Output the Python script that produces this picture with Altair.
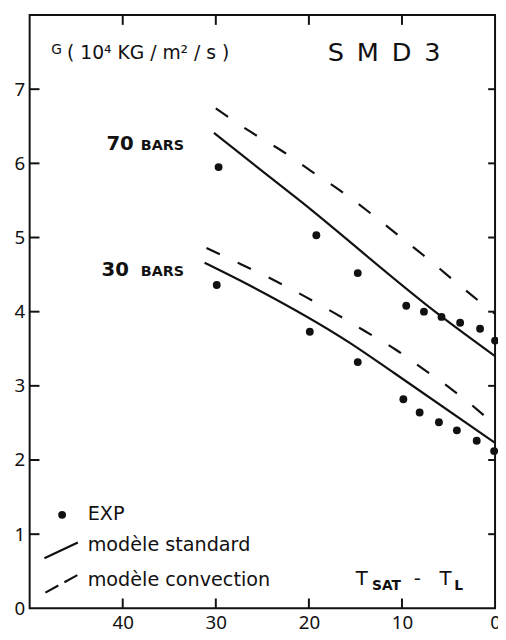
import altair as alt
import pandas as pd

# ---- data ----
exp70_x = [29.7, 19.2, 14.75, 9.54, 7.64, 5.75, 3.75, 1.61, 0.0]
exp70_y = [5.95, 5.03, 4.52, 4.08, 4.00, 3.93, 3.85, 3.77, 3.61]
exp30_x = [29.9, 19.9, 14.75, 9.85, 8.1, 6.03, 4.1, 1.97, 0.1]
exp30_y = [4.36, 3.73, 3.32, 2.82, 2.64, 2.51, 2.40, 2.26, 2.12]

std70_x = [30.2, 20.8, 5.92, 0.0]
std70_y = [6.41, 5.48, 3.95, 3.40]
std30_x = [31.2, 26.6, 15.6, 10.8, 0.0]
std30_y = [4.66, 4.37, 3.58, 3.17, 2.23]

conv70_x = [30.0, 26.2, 22.8, 19.8, 16.6, 13.2, 10.2, 7.29, 4.91, 2.49, 0.0]
conv70_y = [6.74, 6.42, 6.16, 5.90, 5.63, 5.31, 5.01, 4.72, 4.47, 4.22, 3.97]
conv30_x = [31.0, 27.3, 24.0, 20.5, 17.1, 14.0, 10.7, 7.85, 4.73, 1.92, 0.0]
conv30_y = [4.86, 4.64, 4.44, 4.21, 3.97, 3.74, 3.49, 3.24, 2.96, 2.68, 2.47]

x_ticks = [40, 30, 20, 10, 0]
y_ticks = [0, 1, 2, 3, 4, 5, 6, 7]
inner_x_ticks = [40, 30, 20, 10]
inner_y_ticks = [1, 2, 3, 4, 5, 6, 7]

W, H = 473, 603
AXFONT = "Noto Sans"
FONT = "DejaVu Sans"
INK = "#111111"


def series(xs, ys, name):
    return pd.DataFrame({"x": xs, "y": ys, "s": name, "o": list(range(len(xs)))})


exp_df = pd.concat([series(exp70_x, exp70_y, "70"), series(exp30_x, exp30_y, "30")])
std_df = pd.concat([series(std70_x, std70_y, "70"), series(std30_x, std30_y, "30")])
conv_df = pd.concat([series(conv70_x, conv70_y, "70"), series(conv30_x, conv30_y, "30")])

X = alt.X("x:Q", scale=alt.Scale(domain=[0, 50], reverse=True),
          axis=alt.Axis(values=x_ticks, title=None, labelFlush=False, labelOverlap=False))
Y = alt.Y("y:Q", scale=alt.Scale(domain=[0, 8]),
          axis=alt.Axis(values=y_ticks, title=None, labelFlush=False, labelOverlap=False))

pts = alt.Chart(exp_df).mark_point(filled=True, size=64, color=INK, opacity=1).encode(x=X, y=Y)
std = alt.Chart(std_df).mark_line(color=INK, strokeWidth=2.2, interpolate="monotone").encode(
    x=X, y=Y, detail="s:N", order="o:Q")
conv = alt.Chart(conv_df).mark_line(color=INK, strokeWidth=2.2, strokeDash=[15, 20],
                                    interpolate="monotone").encode(
    x=X, y=Y, detail="s:N", order="o:Q")

# inward ticks
yt = pd.DataFrame({"y": inner_y_ticks})
xt = pd.DataFrame({"x": inner_x_ticks})
lt = alt.Chart(yt).mark_rule(color=INK, strokeWidth=2).encode(y=Y, x=alt.value(0), x2=alt.value(10))
rt = alt.Chart(yt).mark_rule(color=INK, strokeWidth=2).encode(y=Y, x=alt.value(W - 7), x2=alt.value(W))
bt = alt.Chart(xt).mark_rule(color=INK, strokeWidth=2).encode(x=X, y=alt.value(H - 10), y2=alt.value(H))
tt = alt.Chart(xt).mark_rule(color=INK, strokeWidth=2).encode(x=X, y=alt.value(0), y2=alt.value(10))


def label(txt, px, py, size, weight="normal", align="left"):
    return alt.Chart(pd.DataFrame({"t": [txt]})).mark_text(
        font=FONT, fontSize=size, fontWeight=weight, color=INK, align=align, baseline="alphabetic"
    ).encode(x=alt.value(px), y=alt.value(py), text="t:N")


texts = [
    label("G", 22, 40, 14),
    label("( 10⁴ KG / m² / s )", 38, 45, 19),
    label("S\u2002M\u2002D\u20023", 303, 47, 26),
    label("70", 78, 137, 20, "bold"),
    label("BARS", 113, 137, 14.5, "bold"),
    label("30", 73, 265.5, 20, "bold"),
    label("BARS", 113, 265.5, 14.5, "bold"),
    label("EXP", 59, 513, 19.5),
    label("modèle standard", 59, 545, 19.5),
    label("modèle convection", 59, 580, 19.5),
    label("T", 331.5, 579.5, 20),
    label("SAT", 348, 584, 14, "bold"),
    label("-", 390.5, 579.5, 20),
    label("T", 416.5, 579.5, 20),
    label("L", 431.5, 584, 14, "bold"),
]

leg_dot = alt.Chart(pd.DataFrame({"t": ["EXP"]})).mark_point(
    filled=True, size=64, color=INK, opacity=1).encode(x=alt.value(33), y=alt.value(508))
leg_std = alt.Chart(pd.DataFrame({"t": ["std"]})).mark_rule(color=INK, strokeWidth=2.2).encode(
    x=alt.value(15), y=alt.value(552), x2=alt.value(49), y2=alt.value(536))
leg_conv = alt.Chart(pd.DataFrame({"t": ["conv"]})).mark_rule(
    color=INK, strokeWidth=2.2, strokeDash=[15, 7]).encode(
    x=alt.value(16), y=alt.value(587), x2=alt.value(49), y2=alt.value(569))

chart = alt.layer(std, conv, pts, lt, rt, bt, tt, leg_dot, leg_std, leg_conv, *texts).properties(
    width=W, height=H,
    padding={"left": 22, "top": 2, "right": 3, "bottom": 25},
    autosize=alt.AutoSizeParams(type="none"),
    background="white",
).configure_view(stroke=INK, strokeWidth=2).configure_axis(
    domain=False, ticks=False, grid=False, labelFont=AXFONT, labelFontSize=19,
    labelColor=INK, labelPadding=5,
)

chart.save("out.html", embed_options={"renderer": "svg", "actions": False})
